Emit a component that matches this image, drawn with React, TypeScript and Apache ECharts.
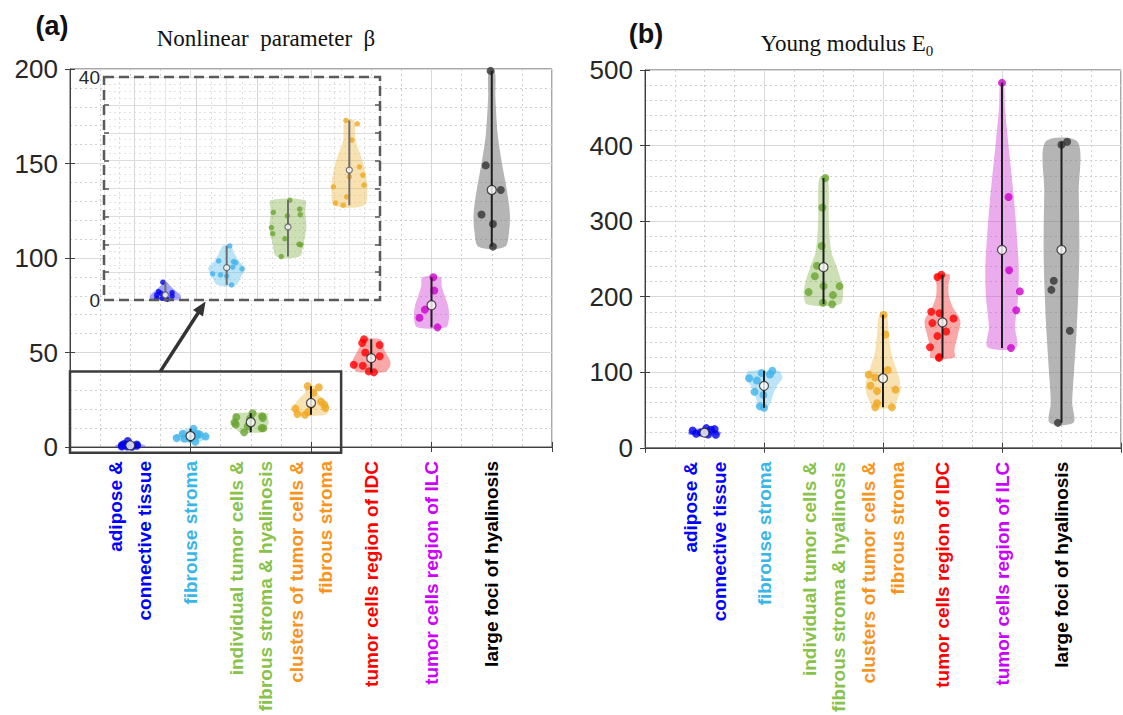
import React, { useEffect, useRef } from 'react';
import * as echarts from 'echarts';

// ---------- data ----------
const categoryLabels = [
  'adipose &\nconnective tissue',
  'fibrouse stroma',
  'individual tumor cells &\nfibrous stroma & hyalinosis',
  'clusters of tumor cells &\nfibrous stroma',
  'tumor cells region of IDC',
  'tumor cells region of ILC',
  'large foci of hyalinosis',
];

const labelColors = ['#0000ff', '#39b5ea', '#88c24a', '#f7941d', '#ff0000', '#cc00ff', '#000000'];
const pointColors = ['#0000ee', '#3fb3ea', '#6aa531', '#f0a820', '#ff0000', '#cc00cc', '#333333'];
const violinFills = [
  'rgba(70,70,255,0.5)',
  'rgba(80,185,235,0.38)',
  'rgba(120,170,60,0.38)',
  'rgba(240,180,50,0.38)',
  'rgba(245,60,60,0.45)',
  'rgba(210,70,215,0.45)',
  'rgba(120,120,120,0.55)',
];

// Nonlinear parameter beta
const betaBlue = [3.2, 1.5, 1.2, 0.9, 1.3, 0.7, 0.3, 0.3, 0.1];
const betaLightBlue = [9.7, 7.0, 6.9, 6.7, 5.9, 5.6, 4.7, 4.5, 4.3, 2.7];
const betaGreen = [17.9, 16.3, 15.7, 15.3, 15.1, 13.0, 11.9, 11.0, 10.0, 9.9, 7.8];
const betaOrange = [32.2, 31.6, 28.7, 23.9, 22.4, 22.1, 20.6, 20.3, 18.5, 17.4, 17.0];
const betaRed = [57, 55, 54, 50, 48, 43.5, 43, 40, 39.5];
const betaPurple = [89.8, 82.8, 72.7, 68.4, 63.3];
const betaBlack = [199, 149, 136, 123, 118, 106];
const betaValues = [betaBlue, betaLightBlue, betaGreen, betaOrange, betaRed, betaPurple, betaBlack];

const betaJitter = [
  [-0.04, -0.11, -0.07, -0.14, 0.11, 0.11, -0.05, -0.14, 0.03],
  [0.05, -0.13, 0.11, 0.15, 0.1, 0.25, -0.23, -0.1, 0, 0.08],
  [0.03, 0.19, -0.24, 0.2, -0.01, -0.27, -0.25, -0.05, 0.18, 0.21, -0.11],
  [-0.055, 0.13, 0.04, 0.165, 0.22, 0, 0.24, -0.26, -0.045, -0.225, -0.1],
  [-0.12, -0.15, 0.14, -0.1, 0.14, -0.29, -0.14, -0.04, 0.045],
  [0.03, 0.045, -0.11, -0.2, 0.1],
  [-0.02, -0.1, 0.15, -0.17, 0.02, 0.02],
];
const betaMedians = [0.9, 5.8, 13.1, 23.3, 47, 75, 136];

// violin outlines: [value, half width in category units]
const betaProfiles = [
  [[0.1, 0.24], [0.8, 0.25], [1.6, 0.17], [2.5, 0.08], [3.2, 0.03]],
  [[2.7, 0.15], [4.5, 0.25], [5.7, 0.3], [7.0, 0.2], [8.5, 0.12], [9.7, 0.07]],
  [[7.8, 0.19], [10, 0.25], [13, 0.3], [16, 0.28], [17.9, 0.28]],
  [[17, 0.25], [20.3, 0.29], [23, 0.26], [25.5, 0.2], [28.7, 0.1], [32.2, 0.08]],
  [[39.5, 0.22], [42, 0.3], [45, 0.32], [50, 0.24], [54, 0.18], [57, 0.15]],
  [[63.3, 0.24], [68, 0.29], [74, 0.28], [80, 0.22], [85, 0.17], [89.8, 0.15]],
  [[106, 0.22], [115, 0.29], [124, 0.3], [136, 0.25], [150, 0.17], [165, 0.1], [185, 0.06], [199, 0.05]],
];

// Young modulus E0
const eBlue = [22.9, 18.5, 26, 23.8, 24.7, 17.2, 17.5, 20.3];
const eLightBlue = [102, 99, 97, 92, 89, 74, 70, 55, 53];
const eGreen = [357, 318, 267, 241, 227, 214, 214, 206, 202, 192, 190];
const eOrange = [176, 150, 103, 97, 93, 82, 77, 75, 59, 53.5, 53.5];
const eRed = [229, 226, 180, 178, 171, 165, 154, 148, 133, 120, 119];
const ePurple = [483, 332, 235, 207, 182, 132];
const eBlack = [405, 401, 221, 209, 155, 33];
const eValues = [eBlue, eLightBlue, eGreen, eOrange, eRed, ePurple, eBlack];

const eJitter = [
  [-0.2, -0.14, 0.03, 0.11, 0.17, 0.19, 0.06, -0.06],
  [0.14, -0.04, 0.1, -0.25, -0.12, -0.16, -0.01, -0.07, 0],
  [0.03, -0.02, -0.03, -0.11, -0.145, 0, 0.27, -0.25, 0.16, -0.01, 0.145],
  [0.01, 0.04, 0.08, -0.24, -0.13, -0.21, 0.21, -0.1, -0.1, -0.13, 0.15],
  [-0.02, -0.085, -0.19, -0.05, 0.185, -0.17, 0.06, -0.085, -0.21, -0.055, -0.06],
  [0, 0.11, 0.12, 0.3, 0.24, 0.15],
  [0.095, 0, -0.13, -0.17, 0.14, -0.06],
];
const eMedians = [20, 82, 239, 92, 166, 262, 262];

const eProfiles = [
  [[17, 0.25], [20, 0.28], [23, 0.22], [26, 0.1]],
  [[53, 0.06], [62, 0.12], [72, 0.16], [82, 0.22], [92, 0.31], [100, 0.28], [102, 0.25]],
  [[190, 0.28], [205, 0.33], [220, 0.3], [240, 0.22], [260, 0.13], [300, 0.09], [357, 0.07]],
  [[53, 0.17], [60, 0.22], [75, 0.29], [90, 0.28], [105, 0.22], [125, 0.14], [150, 0.1], [176, 0.06]],
  [[119, 0.2], [130, 0.2], [150, 0.26], [168, 0.3], [185, 0.18], [200, 0.11], [215, 0.1], [229, 0.12]],
  [[133, 0.24], [160, 0.22], [200, 0.27], [240, 0.28], [280, 0.25], [330, 0.2], [400, 0.11], [450, 0.05], [483, 0.03]],
  [[33, 0.2], [60, 0.18], [100, 0.21], [150, 0.25], [200, 0.28], [260, 0.3], [340, 0.29], [405, 0.27]],
];

const betaTicks = { min: 0, max: 200, interval: 50 };
const insetTicks = { min: 0, max: 40, interval: 5 };
const eTicks = { min: 0, max: 500, interval: 100 };

// zoom window (data space of panel a) and arrow
const zoomWindow = [0, -3, 4.5, 40];
const arrowFromTo = [1.5, 40, 2.25, 77];

// ---------- helpers ----------
const SANS = "'Liberation Sans', Arial, Helvetica, sans-serif";

function violinSeries(xi: number, yi: number, profiles: number[][][], medians: number[], z: number) {
  return {
    type: 'custom',
    xAxisIndex: xi,
    yAxisIndex: yi,
    z,
    silent: true,
    data: profiles.map((_, i) => [i + 1, medians[i]]),
    renderItem: (params: any, api: any) => {
      const i = params.dataIndex;
      const prof = profiles[i];
      const cx = i + 1;
      const right = prof.map(([v, hw]) => api.coord([cx + hw, v]));
      const left = prof.slice().reverse().map(([v, hw]) => api.coord([cx - hw, v]));
      return {
        type: 'polygon',
        shape: { points: [...right, ...left], smooth: 0.3 },
        style: { fill: violinFills[i], stroke: null },
      };
    },
  };
}

function rangeSeries(xi: number, yi: number, values: number[][], color: string, width: number, z: number) {
  return {
    type: 'custom',
    xAxisIndex: xi,
    yAxisIndex: yi,
    z,
    silent: true,
    data: values.map((arr, i) => [i + 1, Math.min(...arr), Math.max(...arr)]),
    renderItem: (params: any, api: any) => {
      const x = api.value(0);
      const p0 = api.coord([x, api.value(1)]);
      const p1 = api.coord([x, api.value(2)]);
      return {
        type: 'line',
        shape: { x1: p0[0], y1: p0[1], x2: p1[0], y2: p1[1] },
        style: { stroke: color, lineWidth: width },
      };
    },
  };
}

function pointSeries(xi: number, yi: number, values: number[][], jitter: number[][], size: number, z: number) {
  return {
    type: 'scatter',
    xAxisIndex: xi,
    yAxisIndex: yi,
    z,
    silent: true,
    symbolSize: size,
    data: values.flatMap((arr, i) =>
      arr.map((v, j) => ({ value: [i + 1 + jitter[i][j], v], itemStyle: { color: pointColors[i] } }))
    ),
  };
}

function medianSeries(xi: number, yi: number, medians: number[], size: number, border: string, z: number) {
  return {
    type: 'scatter',
    xAxisIndex: xi,
    yAxisIndex: yi,
    z,
    silent: true,
    symbolSize: size,
    itemStyle: { color: '#ffffff', borderColor: border, borderWidth: 1.2 },
    data: medians.map((m, i) => [i + 1, m]),
  };
}

const gridLine = { show: true, lineStyle: { color: '#d9d9d9', width: 1 } };
const minorLine = { show: true, lineStyle: { color: '#cfcfcf', width: 1, type: [2, 3] } };

function gridXAxis(gridIndex: number) {
  return {
    type: 'value', gridIndex, min: 0, max: 8, interval: 2, position: 'bottom',
    axisLine: { show: true, onZero: false, lineStyle: { color: '#404040', width: 1 } },
    axisTick: { show: true, inside: true, length: 5, lineStyle: { color: '#404040' } },
    minorTick: { show: false, splitNumber: 4 },
    axisLabel: { show: false },
    splitLine: gridLine,
    minorSplitLine: minorLine,
  };
}
function labelXAxis(gridIndex: number) {
  return {
    type: 'value', gridIndex, min: 0, max: 8, interval: 1, position: 'bottom',
    axisLine: { show: false }, axisTick: { show: false }, splitLine: { show: false },
    axisLabel: {
      show: true, rotate: 90, margin: 14, fontSize: 19, fontWeight: 'bold', fontFamily: SANS,
      lineHeight: 29,
      showMinLabel: true, showMaxLabel: true, hideOverlap: false,
      formatter: (v: number) => (v >= 1 && v <= 7 ? categoryLabels[Math.round(v) - 1] : ''),
      color: (v: any) => {
        const n = Math.round(Number(v));
        return n >= 1 && n <= 7 ? labelColors[n - 1] : '#000';
      },
    },
  };
}
function topXAxis(gridIndex: number) {
  return {
    type: 'value', gridIndex, min: 0, max: 8, interval: 2, position: 'top',
    axisLine: { show: false }, splitLine: { show: false }, axisLabel: { show: false },
    axisTick: { show: true, inside: true, length: 5, lineStyle: { color: '#404040' } },
  };
}
function mainYAxis(gridIndex: number, t: any) {
  return {
    type: 'value', gridIndex, ...t, position: 'left',
    axisLine: { show: true, lineStyle: { color: '#404040', width: 1 } },
    axisTick: { show: true, inside: true, length: 5, lineStyle: { color: '#404040' } },
    minorTick: { show: false, splitNumber: 5 },
    axisLabel: { show: true, fontSize: 26, color: '#262626', fontFamily: SANS, margin: 12 },
    splitLine: gridLine,
    minorSplitLine: minorLine,
  };
}
function rightYAxis(gridIndex: number, t: any) {
  return {
    type: 'value', gridIndex, ...t, position: 'right',
    axisLine: { show: false }, splitLine: { show: false }, axisLabel: { show: false },
    axisTick: { show: true, inside: true, length: 5, lineStyle: { color: '#404040' } },
  };
}

function buildOption() {
  return {
    animation: false,
    backgroundColor: '#ffffff',
    grid: [
      { left: 70, top: 69, width: 482, height: 378, show: true, borderColor: '#505050', borderWidth: 1, backgroundColor: '#ffffff', z: 0 },
      { left: 104, top: 77, width: 276, height: 223, show: true, borderWidth: 0, backgroundColor: '#ffffff', z: 3 },
      { left: 645, top: 70, width: 476, height: 378, show: true, borderColor: '#505050', borderWidth: 1, backgroundColor: '#ffffff', z: 0 },
    ],
    xAxis: [
      gridXAxis(0), // 0
      labelXAxis(0), // 1
      topXAxis(0), // 2
      { // 3 inset
        type: 'value', gridIndex: 1, min: 0, max: 4.5, interval: 0.5, z: 4,
        axisLine: { show: false }, axisTick: { show: false }, axisLabel: { show: false },
        splitLine: { show: true, lineStyle: { color: ['#e6e6e6', '#d6d6d6'], width: 1 } },
        minorTick: { show: false, splitNumber: 2 },
        minorSplitLine: { show: true, lineStyle: { color: '#dedede', type: [2, 3] } },
      },
      gridXAxis(2), // 4
      labelXAxis(2), // 5
      topXAxis(2), // 6
    ],
    yAxis: [
      mainYAxis(0, betaTicks), // 0
      rightYAxis(0, betaTicks), // 1
      { // 2 inset
        type: 'value', gridIndex: 1, ...insetTicks, position: 'left', z: 4,
        axisLine: { show: false },
        axisTick: { show: true, inside: true, length: 5, lineStyle: { color: '#555555', width: 1.5 } },
        minorTick: { show: false, splitNumber: 4 },
        axisLabel: {
          show: true, fontSize: 19, color: '#262626', fontFamily: SANS, margin: 4,
          formatter: (v: number) => (v === 0 || v === 40 ? String(v) : ''),
        },
        splitLine: { show: true, lineStyle: { color: '#dddddd' } },
        minorSplitLine: { show: true, lineStyle: { color: '#e2e2e2', type: [2, 3] } },
      },
      mainYAxis(2, eTicks), // 3
      rightYAxis(2, eTicks), // 4
      { // 5 inset right ticks
        type: 'value', gridIndex: 1, ...insetTicks, position: 'right', z: 4,
        axisLine: { show: false }, splitLine: { show: false }, axisLabel: { show: false },
        axisTick: { show: true, inside: true, length: 5, lineStyle: { color: '#555555', width: 1.5 } },
      },
    ],
    series: [
      // panel a main
      violinSeries(0, 0, betaProfiles, betaMedians, 2),
      pointSeries(0, 0, betaValues, betaJitter, 8, 3),
      rangeSeries(0, 0, betaValues, '#1e1e1e', 2, 4),
      medianSeries(0, 0, betaMedians, 9, '#222222', 5),
      // inset
      violinSeries(3, 2, betaProfiles.slice(0, 4), betaMedians.slice(0, 4), 6),
      pointSeries(3, 2, betaValues.slice(0, 4), betaJitter.slice(0, 4), 5.5, 7),
      rangeSeries(3, 2, betaValues.slice(0, 4), '#6e6e6e', 2, 8),
      medianSeries(3, 2, betaMedians.slice(0, 4), 6, '#555555', 9),
      { // inset dashed frame
        type: 'custom', xAxisIndex: 3, yAxisIndex: 2, z: 10, silent: true, clip: false,
        data: [[0, 0]],
        renderItem: (params: any) => {
          const cs = params.coordSys;
          return {
            type: 'rect',
            shape: { x: cs.x, y: cs.y, width: cs.width, height: cs.height },
            style: { fill: 'none', stroke: '#5a5a5a', lineWidth: 2.5, lineDash: [10, 5] },
          };
        },
      },
      { // zoom window + arrow
        type: 'custom', xAxisIndex: 0, yAxisIndex: 0, z: 11, silent: true, clip: false,
        data: [zoomWindow],
        renderItem: (params: any, api: any) => {
          const [x0, y0, x1, y1] = zoomWindow;
          const p0 = api.coord([x0, y0]);
          const p1 = api.coord([x1, y1]);
          const a0 = api.coord([arrowFromTo[0], arrowFromTo[1]]);
          const a1 = api.coord([arrowFromTo[2], arrowFromTo[3]]);
          const dx = a1[0] - a0[0];
          const dy = a1[1] - a0[1];
          const L = Math.hypot(dx, dy);
          const ux = dx / L, uy = dy / L;
          const hl = 14, hw = 6;
          const bx = a1[0] - ux * hl, by = a1[1] - uy * hl;
          return {
            type: 'group',
            children: [
              { type: 'rect', shape: { x: p0[0], y: p1[1], width: p1[0] - p0[0], height: p0[1] - p1[1] }, style: { fill: 'none', stroke: '#3c3c3c', lineWidth: 2.5 } },
              { type: 'line', shape: { x1: a0[0], y1: a0[1], x2: bx + ux * 2, y2: by + uy * 2 }, style: { stroke: '#333333', lineWidth: 3.5 } },
              { type: 'polygon', shape: { points: [[a1[0], a1[1]], [bx - uy * hw, by + ux * hw], [bx + uy * hw, by - ux * hw]] }, style: { fill: '#333333' } },
            ],
          };
        },
      },
      // panel b
      violinSeries(4, 3, eProfiles, eMedians, 2),
      pointSeries(4, 3, eValues, eJitter, 8, 3),
      rangeSeries(4, 3, eValues, '#1e1e1e', 2, 4),
      medianSeries(4, 3, eMedians, 9, '#222222', 5),
    ],
    graphic: [
      {
        type: 'text', x: 52, y: 26, z: 20,
        style: { text: '(a)', font: "bold 27px 'Liberation Sans Narrow', 'Liberation Sans', Arial", fill: '#111', textAlign: 'center', align: 'center', textVerticalAlign: 'middle', verticalAlign: 'middle' },
      },
      {
        type: 'text', x: 266, y: 38, z: 20,
        style: { text: 'Nonlinear  parameter  β', font: "23px 'Liberation Serif', 'Times New Roman', serif", fill: '#111', textAlign: 'center', align: 'center', textVerticalAlign: 'middle', verticalAlign: 'middle' },
      },
      {
        type: 'text', x: 646, y: 34, z: 20,
        style: { text: '(b)', font: "bold 27px 'Liberation Sans Narrow', 'Liberation Sans', Arial", fill: '#111', textAlign: 'center', align: 'center', textVerticalAlign: 'middle', verticalAlign: 'middle' },
      },
      {
        type: 'text', x: 847, y: 43, z: 20,
        style: {
          text: '{a|Young modulus E}{s|0}',
          textAlign: 'center', align: 'center', textVerticalAlign: 'middle', verticalAlign: 'middle',
          rich: {
            a: { fontSize: 23, fontFamily: "'Liberation Serif', 'Times New Roman', serif", fill: '#111', color: '#111', lineHeight: 30, verticalAlign: 'middle' },
            s: { fontSize: 15, fontFamily: "'Liberation Serif', 'Times New Roman', serif", fill: '#111', color: '#111', lineHeight: 14, verticalAlign: 'bottom' },
          },
        },
      },
    ],
  };
}

export default function App() {
  const ref = useRef<HTMLDivElement>(null);
  useEffect(() => {
    document.body.style.margin = '0';
    const chart = echarts.init(ref.current!, null, { renderer: 'svg' });
    chart.setOption(buildOption() as any);
    return () => chart.dispose();
  }, []);
  return <div ref={ref} style={{ width: 1123, height: 715 }} />;
}
